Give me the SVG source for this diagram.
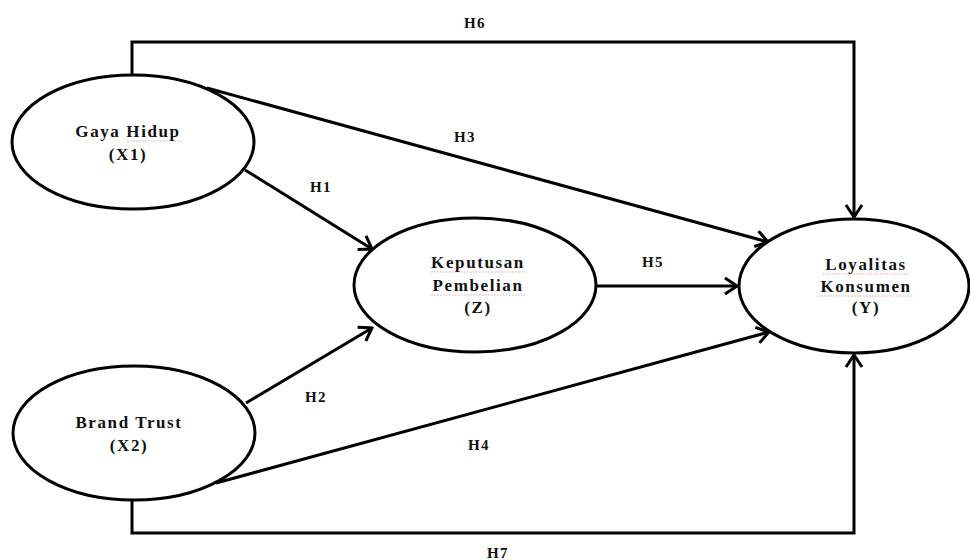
<svg xmlns="http://www.w3.org/2000/svg" width="970" height="560" viewBox="0 0 970 560">
<defs>
<style>
.n{fill:#fff;stroke:#000;stroke-width:3}
.c{fill:none;stroke:#000;stroke-width:3}
.t{font-family:"Liberation Serif","Times New Roman",serif;font-weight:bold;font-size:17px;letter-spacing:1.6px;fill:#111;text-anchor:middle}
.h{font-family:"Liberation Serif","Times New Roman",serif;font-weight:bold;font-size:15px;letter-spacing:1.5px;fill:#111;text-anchor:middle}
.sq{fill:none;stroke:#d66;stroke-width:1;stroke-dasharray:1.5 1.5;opacity:0.6}
</style>
<marker id="a" viewBox="0 0 20 20" refX="18" refY="10" markerWidth="20" markerHeight="20" markerUnits="userSpaceOnUse" orient="auto">
<path d="M6 2 L18 10 L6 18" fill="none" stroke="#000" stroke-width="3"/>
</marker>
</defs>
<rect width="970" height="560" fill="#fff"/>
<g id="connectors">
<path class="c" d="M132 75 V42 H854 V217" marker-end="url(#a)"/>
<path class="c" d="M132 500 V533 H854 V355" marker-end="url(#a)"/>
<path class="c" d="M207 88 L768 242" marker-end="url(#a)"/>
<path class="c" d="M245 170 L372 249" marker-end="url(#a)"/>
<path class="c" d="M246 403 L372 328" marker-end="url(#a)"/>
<path class="c" d="M216 483 L769 332" marker-end="url(#a)"/>
<path class="c" d="M597 286 L737 286" marker-end="url(#a)"/>
</g>
<g id="labels" class="h">
<text x="475" y="28">H6</text>
<text x="465" y="142">H3</text>
<text x="321" y="192">H1</text>
<text x="653" y="267">H5</text>
<text x="316" y="402">H2</text>
<text x="479" y="450">H4</text>
<text x="498" y="558">H7</text>
</g>
<g id="X1">
<ellipse class="n" cx="133" cy="142" rx="121" ry="67"/>
<text class="t" x="128" y="137">Gaya Hidup</text>
<text class="t" x="128" y="160">(X1)</text>
<path class="sq" d="M127 141 H182"/>
</g>
<g id="X2">
<ellipse class="n" cx="134" cy="433" rx="121" ry="67"/>
<text class="t" x="129" y="428">Brand Trust</text>
<text class="t" x="129" y="451">(X2)</text>
</g>
<g id="Z">
<ellipse class="n" cx="475" cy="285" rx="121" ry="67"/>
<text class="t" x="478" y="268">Keputusan</text>
<text class="t" x="478" y="291">Pembelian</text>
<text class="t" x="478" y="313">(Z)</text>
<path class="sq" d="M431 272 H525 M431 295 H525"/>
</g>
<g id="Y">
<ellipse class="n" cx="854" cy="286" rx="115" ry="67"/>
<text class="t" x="866" y="270">Loyalitas</text>
<text class="t" x="866" y="292">Konsumen</text>
<text class="t" x="866" y="313">(Y)</text>
<path class="sq" d="M823 274 H908 M818 296 H913"/>
</g>
</svg>
